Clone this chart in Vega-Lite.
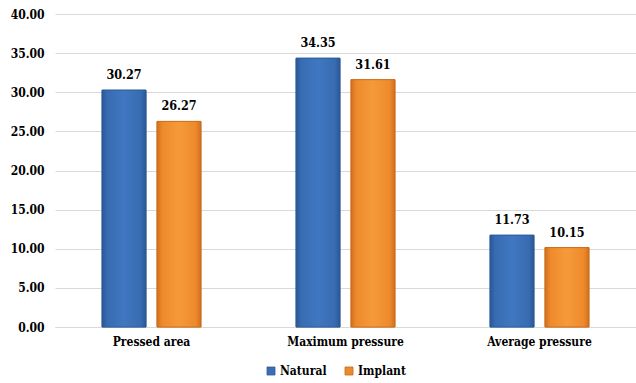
{
  "$schema": "https://vega.github.io/schema/vega-lite/v6.json",
  "width": 581,
  "height": 313,
  "autosize": "none",
  "padding": {"left": 55, "top": 14, "right": 0, "bottom": 56},
  "background": "white",
  "data": {
    "values": [
      {"measure": "Pressed area", "group": "Natural", "value": 30.27},
      {"measure": "Pressed area", "group": "Implant", "value": 26.27},
      {"measure": "Maximum pressure", "group": "Natural", "value": 34.35},
      {"measure": "Maximum pressure", "group": "Implant", "value": 31.61},
      {"measure": "Average pressure", "group": "Natural", "value": 11.73},
      {"measure": "Average pressure", "group": "Implant", "value": 10.15}
    ]
  },
  "config": {
    "font": "DejaVu Serif Condensed",
    "view": {"stroke": null},
    "axis": {"labelFont": "DejaVu Serif Condensed", "labelFontWeight": "bold", "labelColor": "#000000"}
  },
  "encoding": {
    "x": {
      "field": "measure",
      "type": "nominal",
      "sort": ["Pressed area", "Maximum pressure", "Average pressure"],
      "scale": {"paddingInner": 0.49, "paddingOuter": 0.2425},
      "axis": {
        "title": null,
        "labelAngle": 0,
        "labelFontSize": 12,
        "labelPadding": 9,
        "ticks": false,
        "domainColor": "#d9d9d9",
        "domainWidth": 1
      }
    },
    "xOffset": {
      "field": "group",
      "type": "nominal",
      "scale": {"domain": ["Natural", "Implant"], "paddingInner": 0.2, "paddingOuter": 0}
    },
    "y": {
      "field": "value",
      "type": "quantitative",
      "scale": {"domain": [0, 40], "nice": false},
      "axis": {
        "title": null,
        "values": [0, 5, 10, 15, 20, 25, 30, 35, 40],
        "format": ".2f",
        "labelFontSize": 12,
        "labelPadding": 11,
        "ticks": false,
        "domain": false,
        "gridColor": "#d9d9d9",
        "gridWidth": 1
      }
    }
  },
  "layer": [
    {
      "mark": {"type": "bar", "strokeWidth": 0.8},
      "encoding": {
        "color": {
          "field": "group",
          "type": "nominal",
          "scale": {"domain": ["Natural", "Implant"], "range": ["#3a6fb6", "#ef8a2c"]},
          "legend": {
            "title": null,
            "orient": "none",
            "direction": "horizontal",
            "legendX": 210,
            "legendY": 351,
            "symbolType": "square",
            "symbolSize": 64,
            "symbolStrokeWidth": 0.8,
            "labelFontSize": 12,
            "labelFontWeight": "bold",
            "labelFont": "DejaVu Serif Condensed",
            "labelColor": "#000000",
            "labelOffset": 3,
            "columnPadding": 16
          }
        },
        "stroke": {
          "field": "group",
          "type": "nominal",
          "scale": {"domain": ["Natural", "Implant"], "range": ["#2b5a98", "#c86a1a"]},
          "legend": null
        }
      }
    },
    {
      "transform": [{"filter": "datum.group === 'Natural'"}],
      "mark": {
        "type": "bar",
        "stroke": "#2b5a98",
        "strokeWidth": 0.8,
        "fill": {"gradient": "linear", "x1": 0, "x2": 1, "y1": 0, "y2": 0,
          "stops": [
            {"offset": 0, "color": "#2a5796"},
            {"offset": 0.12, "color": "#386cb2"},
            {"offset": 0.5, "color": "#3f77c0"},
            {"offset": 0.88, "color": "#386cb2"},
            {"offset": 1, "color": "#2a5796"}
          ]}
      }
    },
    {
      "transform": [{"filter": "datum.group === 'Implant'"}],
      "mark": {
        "type": "bar",
        "stroke": "#c86a1a",
        "strokeWidth": 0.8,
        "fill": {"gradient": "linear", "x1": 0, "x2": 1, "y1": 0, "y2": 0,
          "stops": [
            {"offset": 0, "color": "#d2701c"},
            {"offset": 0.12, "color": "#ee8a2c"},
            {"offset": 0.5, "color": "#f59a3a"},
            {"offset": 0.88, "color": "#ee8a2c"},
            {"offset": 1, "color": "#d2701c"}
          ]}
      }
    },
    {
      "mark": {"type": "text", "baseline": "bottom", "dy": -8, "fontSize": 12.5, "fontWeight": "bold", "font": "DejaVu Serif Condensed", "color": "#000000"},
      "encoding": {
        "text": {"field": "value", "type": "quantitative", "format": ".2f"}
      }
    }
  ]
}
